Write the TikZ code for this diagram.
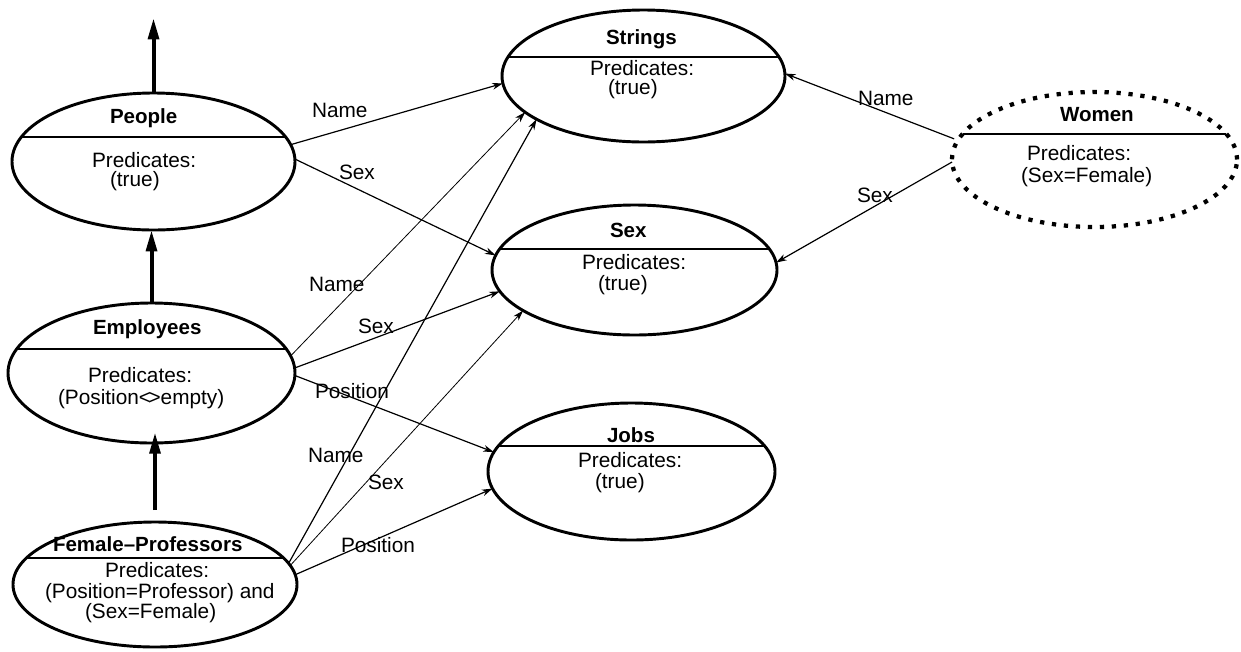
\documentclass[tikz,border=0pt]{standalone}
\usepackage{fontspec}
\setmainfont{Liberation Sans}
\usetikzlibrary{shapes.geometric,arrows.meta}
\begin{document}
\begin{tikzpicture}[x=0.75pt,y=-0.75pt,
  divider/.style={solid,line width=1.1pt},
  cls/.style n args={3}{ellipse,draw,line width=2.2pt,inner sep=0pt,outer sep=0pt,
    minimum width=#1,minimum height=#2,
    path picture={\draw[divider] ([yshift=#3]path picture bounding box.west) -- ([yshift=#3]path picture bounding box.east);}},
  virtual/.style={line width=3.2pt,dash pattern=on 3.2pt off 5.8pt},
  txt/.style={anchor=base west,inner sep=0pt,outer sep=0pt,font=\fontsize{15.6}{17}\selectfont},
  ttl/.style={txt,font=\fontsize{15.4}{17}\selectfont\bfseries},
  rel/.style={draw,line width=0.9pt,-{Stealth[length=8pt,width=5pt,inset=2.5pt]}},
  thinrel/.style={rel,line width=0.6pt},
  inherit/.style={line width=3pt,-{Triangle[length=16pt,width=8pt]}}]
\useasboundingbox (0,0) rectangle (1241,651);

% classes
\node[cls={212.25pt}{102.75pt}{18.4pt}] (people) at (153.5,161.5) {};
\node[cls={215.25pt}{105pt}{18pt}] (emp) at (151.5,373) {};
\node[cls={213pt}{93.75pt}{19.9pt}] (fp) at (155,584.5) {};
\node[cls={212.25pt}{99pt}{14.25pt}] (strings) at (643.5,76) {};
\node[cls={213.75pt}{97.5pt}{15.75pt}] (sex) at (634.5,270) {};
\node[cls={215.25pt}{102.75pt}{19.1pt}] (jobs) at (631.5,471.5) {};
\node[cls={213.75pt}{101.25pt}{19.1pt},virtual] (women) at (1094.5,159.5) {};

% class texts
\node[ttl] (people-t) at (110,123) {People};
\node[txt] (people-p1) at (92,167) {Predicates:};
\node[txt] (people-p2) at (110,186) {(true)};

\node[ttl] (emp-t) at (93,334) {Employees};
\node[txt] (emp-p1) at (88,382) {Predicates:};
\node[txt] (emp-p2) at (58,404) {(Position<\kern-0.12em>empty)};

\node[ttl] (fp-t) at (53,551) {Female–Professors};
\node[txt] (fp-p1) at (105,577) {Predicates:};
\node[txt] (fp-p2) at (45,598) {(Position=Professor) and};
\node[txt] (fp-p3) at (85,618) {(Sex=Female)};

\node[ttl] (strings-t) at (606,44) {Strings};
\node[txt] (strings-p1) at (590,75) {Predicates:};
\node[txt] (strings-p2) at (608,94) {(true)};

\node[ttl] (sex-t) at (610,237) {Sex};
\node[txt] (sex-p1) at (582,269) {Predicates:};
\node[txt] (sex-p2) at (598,290) {(true)};

\node[ttl] (jobs-t) at (607,442) {Jobs};
\node[txt] (jobs-p1) at (578,467) {Predicates:};
\node[txt] (jobs-p2) at (595,488) {(true)};

\node[ttl] (women-t) at (1060,121) {Women};
\node[txt] (women-p1) at (1027,160) {Predicates:};
\node[txt] (women-p2) at (1021,182) {(Sex=Female)};

% generalisation arrows
\coordinate (above) at (157,18);
\draw[inherit] (people.north) -- (people.north |- above);
\draw[inherit] (emp.north) -- (emp.north |- people.south);
\draw[inherit,shorten <=9pt,shorten >=-8pt] (fp.north) -- (fp.north |- emp.south);

% attribute references
\draw[rel] (people.7) -- (strings.183);
\draw[rel] (people.1.4) -- (sex.174.9);
\draw[thinrel] (emp.7.2) -- (strings.197.5);
\draw[rel] (emp.2) -- (sex.189.2);
\draw[rel] (emp.-1.2) -- (jobs.172.2);
\draw[rel] (fp.9.5) -- (strings.202.1);
\draw[thinrel] (fp.8.1) -- (sex.200.3);
\draw[rel] (fp.4.6) -- (jobs.187);
\draw[rel,shorten <=3pt] (women.172.4) -- (strings.1.6);
\draw[rel] (women.181) -- (sex.3.2);

% attribute labels
\node[txt] (l-pn) at (312,117) {Name};
\node[txt] (l-ps) at (339,179) {Sex};
\node[txt] (l-en) at (309,291) {Name};
\node[txt] (l-es) at (358,333) {Sex};
\node[txt] (l-ep) at (315,398) {Position};
\node[txt] (l-fn) at (308,462) {Name};
\node[txt] (l-fs) at (368,489) {Sex};
\node[txt] (l-fp) at (341,552) {Position};
\node[txt] (l-wn) at (858,105) {Name};
\node[txt] (l-ws) at (857,202) {Sex};
\end{tikzpicture}
\end{document}
